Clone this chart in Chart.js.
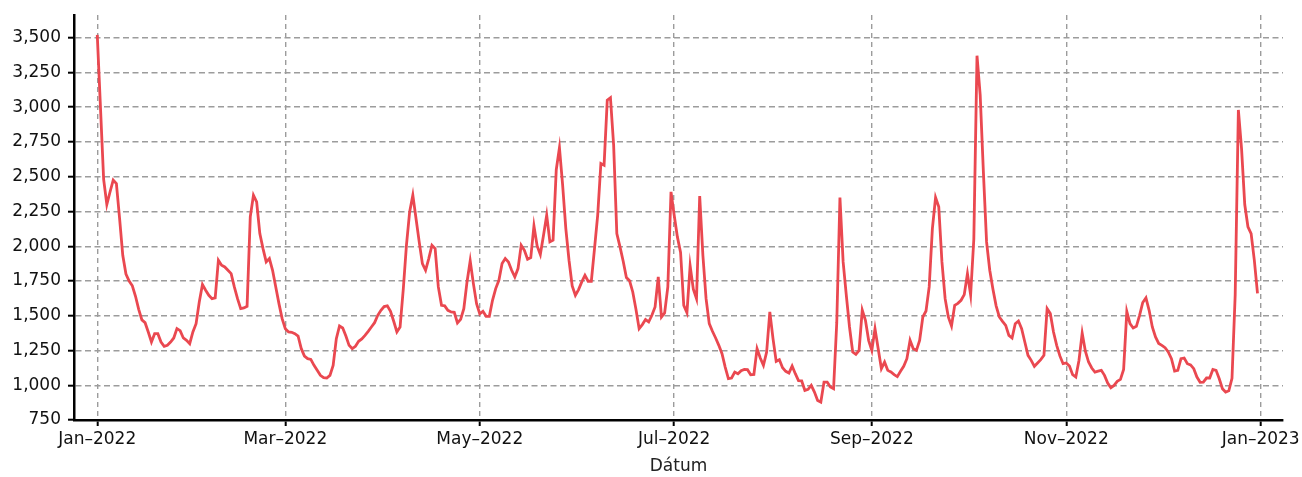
<!DOCTYPE html>
<html>
<head>
<meta charset="utf-8">
<script src="https://cdn.jsdelivr.net/npm/chart.js@4"></script>
<style>
  html, body { margin: 0; padding: 0; background: #fff; }
  #wrap { width: 1302px; height: 477px; }
</style>
</head>
<body>
<div id="wrap"><canvas id="chart" width="1302" height="477"></canvas></div>
<script>
// daily values, 1 Jan 2022 .. 31 Dec 2022 (day index 0..364)
const dailyValues = [
  3520, 3000, 2480, 2300, 2390, 2475, 2450, 2200, 1935, 1800,
  1750, 1715, 1640, 1546, 1470, 1450, 1383, 1311, 1371, 1371,
  1311, 1280, 1287, 1311, 1340, 1407, 1393, 1340, 1323, 1299,
  1383, 1443, 1599, 1724, 1683, 1647, 1623, 1628, 1899, 1863,
  1851, 1827, 1803, 1707, 1623, 1551, 1556, 1568, 2211, 2367,
  2319, 2091, 1983, 1887, 1911, 1827, 1707, 1587, 1479, 1407,
  1383, 1381, 1371, 1354, 1263, 1210, 1191, 1186, 1143, 1107,
  1071, 1055, 1052, 1071, 1143, 1335, 1426, 1412, 1354, 1287,
  1263, 1280, 1316, 1333, 1359, 1388, 1419, 1450, 1503, 1539,
  1566, 1571, 1532, 1460, 1383, 1419, 1690, 2007, 2247, 2367,
  2199, 2031, 1875, 1827, 1911, 2007, 1983, 1707, 1575, 1571,
  1539, 1527, 1525, 1448, 1474, 1551, 1743, 1895, 1731, 1587,
  1513, 1532, 1496, 1496, 1611, 1695, 1755, 1875, 1911, 1887,
  1827, 1779, 1839, 2007, 1971, 1906, 1918, 2146, 2002, 1940,
  2079, 2223, 2031, 2043, 2550, 2708, 2439, 2127, 1899, 1715,
  1647, 1688, 1743, 1791, 1748, 1748, 1983, 2223, 2595, 2583,
  3050, 3068, 2727, 2091, 1995, 1892, 1775, 1751, 1671, 1547,
  1407, 1436, 1472, 1455, 1503, 1563, 1779, 1491, 1520, 1707,
  2391, 2223, 2067, 1955, 1575, 1522, 1859, 1691, 1623, 2360,
  1935, 1623, 1443, 1388, 1340, 1287, 1227, 1131, 1047, 1052,
  1095, 1083, 1105, 1114, 1112, 1076, 1078, 1263, 1196, 1143,
  1239, 1527, 1335, 1172, 1184, 1126, 1100, 1088, 1138, 1083,
  1033, 1031, 963, 971, 999, 951, 891, 879, 1023, 1023,
  987, 975, 1450, 2350, 1887, 1647, 1419, 1239, 1222, 1251,
  1540, 1467, 1323, 1250, 1407, 1263, 1119, 1167, 1107, 1095,
  1076, 1062, 1100, 1136, 1191, 1323, 1263, 1251, 1323, 1491,
  1534, 1707, 2127, 2350, 2283, 1887, 1623, 1491, 1426, 1575,
  1589, 1611, 1652, 1803, 1650, 2050, 3370, 3087, 2535, 2031,
  1827, 1691, 1571, 1491, 1460, 1431, 1359, 1340, 1443, 1462,
  1407, 1311, 1215, 1179, 1136, 1160, 1184, 1215, 1551, 1515,
  1383, 1287, 1211, 1155, 1160, 1138, 1076, 1059, 1180, 1375,
  1245, 1167, 1124, 1095, 1102, 1107, 1071, 1016, 982, 999,
  1028, 1042, 1114, 1530, 1443, 1412, 1424, 1503, 1595, 1628,
  1539, 1419, 1347, 1301, 1287, 1270, 1239, 1191, 1102, 1107,
  1191, 1196, 1155, 1146, 1119, 1059, 1021, 1023, 1052, 1052,
  1114, 1107, 1047, 975, 951, 960, 1050, 1650, 2980, 2700,
  2300, 2140, 2090, 1900, 1660
];

// x ticks: first day of every second month
const tickDays = [0, 59, 120, 181, 243, 304, 365];
const tickLabels = ["Jan\u20132022", "Mar\u20132022", "May\u20132022", "Jul\u20132022",
                    "Sep\u20132022", "Nov\u20132022", "Jan\u20132023"];
const yTicks = [750, 1000, 1250, 1500, 1750, 2000, 2250, 2500, 2750, 3000, 3250, 3500];

const points = dailyValues.map((v, i) => ({ x: i, y: v }));

const font = { family: "DejaVu Sans", size: 17 };
const gridColor = "#9c9c9c";

new Chart(document.getElementById("chart"), {
  type: "line",
  data: {
    datasets: [{
      data: points,
      borderColor: "#ea4850",
      borderWidth: 2.8,
      pointRadius: 0,
      tension: 0,
    }],
  },
  options: {
    responsive: false,
    animation: false,
    layout: { padding: { left: 0, right: 19, top: 15, bottom: 0 } },
    plugins: {
      legend: { display: false },
      tooltip: { enabled: false },
    },
    scales: {
      x: {
        type: "linear",
        min: -7.3,
        max: 372,
        afterBuildTicks: (scale) => {
          scale.ticks = tickDays.map((d) => ({ value: d }));
        },
        afterFit: (scale) => {
          scale.height = 57;
          scale.paddingLeft = 0;
          scale.paddingRight = 0;
        },
        ticks: {
          autoSkip: false,
          maxRotation: 0,
          color: "#111",
          font: font,
          padding: 3,
          callback: (v) => tickLabels[tickDays.indexOf(v)],
        },
        grid: {
          color: gridColor,
          lineWidth: 1.4,
          tickColor: "#000",
          tickLength: 6,
          tickWidth: 2,
          tickBorderDash: [],
        },
        border: { color: "#000", width: 2.5, dash: [5, 4] },
        title: {
          display: true,
          text: "Dátum",
          color: "#222",
          font: font,
          padding: { top: 0, bottom: 0 },
        },
      },
      y: {
        min: 750,
        max: 3663,
        afterBuildTicks: (scale) => {
          scale.ticks = yTicks.map((v) => ({ value: v }));
        },
        afterFit: (scale) => {
          scale.width = 74;
          scale.paddingTop = 0;
          scale.paddingBottom = 0;
        },
        ticks: {
          color: "#111",
          font: font,
          padding: 7,
          callback: (v) => v.toLocaleString("en-US"),
        },
        grid: {
          color: gridColor,
          lineWidth: 1.4,
          tickColor: "#000",
          tickLength: 6,
          tickWidth: 2,
          tickBorderDash: [],
        },
        border: { color: "#000", width: 2.5, dash: [6, 3.5] },
      },
    },
  },
});
</script>
</body>
</html>
